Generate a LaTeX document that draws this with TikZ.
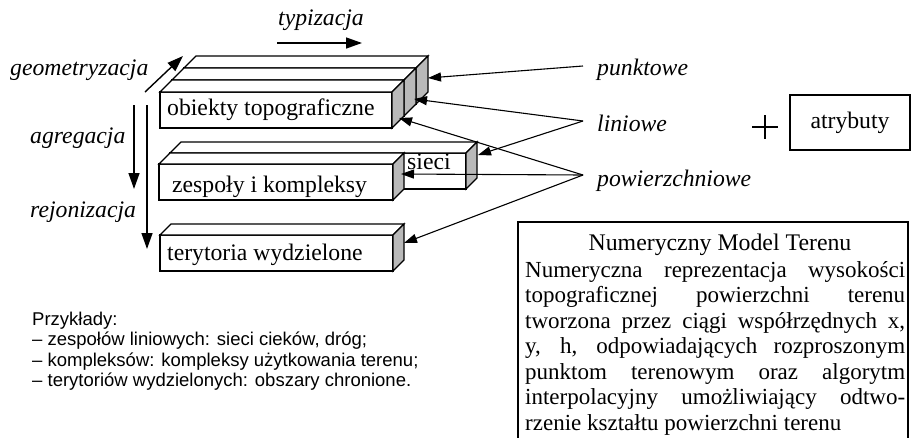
\documentclass[tikz,border=0pt]{standalone}
\usepackage{fontspec}
\setmainfont{Liberation Serif}
\newfontfamily\sansfnt{Liberation Sans}
\usetikzlibrary{arrows.meta}
\newcommand\myslab[5]{%
  \filldraw[slabface] (#1,#2) rectangle (#3,#4);
  \filldraw[slabface] (#1,#2) -- (#1+#5,#2-#5) -- (#3+#5,#2-#5) -- (#3,#2) -- cycle;
  \filldraw[slabside] (#3,#2) -- (#3+#5,#2-#5) -- (#3+#5,#4-#5) -- (#3,#4) -- cycle;
}
\begin{document}
\begin{tikzpicture}[x=1pt,y=-1pt,line join=miter,
  slabface/.style={fill=white,draw=black,line width=1.3pt},
  slabside/.style={fill=gray!55,draw=black,line width=1.3pt},
  conn/.style={line width=1.1pt,-{Triangle[length=13pt,width=9pt]}},
  bigconn/.style={line width=1.4pt,-{Triangle[length=16pt,width=11pt]}},
  boxtext/.style={anchor=base west,inner sep=0pt,font=\fontsize{23.7}{25}\selectfont},
  ital/.style={anchor=base west,inner sep=0pt,font=\fontsize{23.7}{25}\selectfont\itshape}]
\fill[white] (0,0) rectangle (911,437);
\useasboundingbox (0,0) rectangle (911,437);

% ---- block 1: obiekty topograficzne (three slabs)
\myslab{184}{68}{416}{104}{12}
\myslab{172}{80}{404}{116}{12}
\myslab{160}{92}{392}{128}{12}
% ---- block 2: zespoly i kompleksy + sieci
\myslab{170}{153}{466}{189}{11}
\myslab{159}{164}{393}{200}{11}
% ---- block 3: terytoria wydzielone
\myslab{160}{235}{393}{271}{11}

\node[boxtext] (obiekty) at (167,115) {obiekty topograficzne};
\node[boxtext] (zespoly) at (172,192) {zespoły i kompleksy};
\node[boxtext] (sieci) at (407,169) {sieci};
\node[boxtext] (terytoria) at (167,260) {terytoria wydzielone};

% ---- left labels and arrows
\node[ital] (typ) at (278,25) {typizacja};
\node[ital] (geo) at (10,75) {geometryzacja};
\node[ital] (agr) at (30,143) {agregacja};
\node[ital] (rej) at (30,217) {rejonizacja};

\coordinate (tA) at (277,43);  \coordinate (tB) at (362,43);
\coordinate (gA) at (145,92);  \coordinate (gB) at (183,56);
\coordinate (aA) at (134,105); \coordinate (aB) at (134,189);
\coordinate (rA) at (147,105); \coordinate (rB) at (147,249);
\draw[bigconn] (tA) -- (tB);
\draw[bigconn] (gA) -- (gB);
\draw[bigconn] (aA) -- (aB);
\draw[bigconn] (rA) -- (rB);

% ---- right labels and arrows
\node[ital] (punkt) at (597,75) {punktowe};
\node[ital] (lin) at (597,131) {liniowe};
\node[ital] (pow) at (597,186) {powierzchniowe};

\coordinate (sP) at (583,66);
\coordinate (sL) at (583,121);
\coordinate (sW) at (583,175);
\coordinate (tP1) at (428,78);
\coordinate (tL1) at (414,99);
\coordinate (tL2) at (478,155);
\coordinate (tW1) at (399,118);
\coordinate (tW2) at (401,174);
\coordinate (tW3) at (404,243);
\draw[conn] (sP) -- (tP1);
\draw[conn] (sL) -- (tL1);
\draw[conn] (sL) -- (tL2);
\draw[conn] (sW) -- (tW1);
\draw[conn] (sW) -- (tW2);
\draw[conn] (sW) -- (tW3);

% ---- plus and atrybuty
\draw[line width=2.2pt] (752,127) -- (778,127) (765,115) -- (765,139);
\node[draw,line width=1.3pt,minimum width=120pt,minimum height=55pt,inner sep=0pt,
      font=\fontsize{23.7}{25}\selectfont] (atr) at (850,122.5) {atrybuty};

% ---- examples
\node[anchor=base west,inner sep=0pt,font=\sansfnt\fontsize{18.5}{20.5}\selectfont] (przyk) at (32,325)
 {\parbox[t]{460pt}{Przykłady:\\
 – zespołów liniowych: sieci cieków, dróg;\\
 – kompleksów: kompleksy użytkowania terenu;\\
 – terytoriów wydzielonych: obszary chronione.}};

% ---- NMT box
\draw[line width=1.4pt] (518,440) -- (518,222) -- (908,222) -- (908,440);
\node[anchor=base,inner sep=0pt,font=\fontsize{23.8}{25}\selectfont] (nmttitle) at (720,250) {Numeryczny Model Terenu};
\node[anchor=base west,inner sep=0pt,font=\fontsize{23}{25.5}\selectfont] (nmtbody) at (525,277)
 {\parbox[t]{380pt}{%
 \makebox[380pt][s]{Numeryczna reprezentacja wysokości}\\
 \makebox[380pt][s]{topograficznej powierzchni terenu}\\
 \makebox[380pt][s]{tworzona przez ciągi współrzędnych x,}\\
 \makebox[380pt][s]{y, h, odpowiadających rozproszonym}\\
 \makebox[380pt][s]{punktom terenowym oraz algorytm}\\
 \makebox[380pt][s]{interpolacyjny umożliwiający odtwo-}\\
 rzenie kształtu powierzchni terenu}};
\end{tikzpicture}
\end{document}
